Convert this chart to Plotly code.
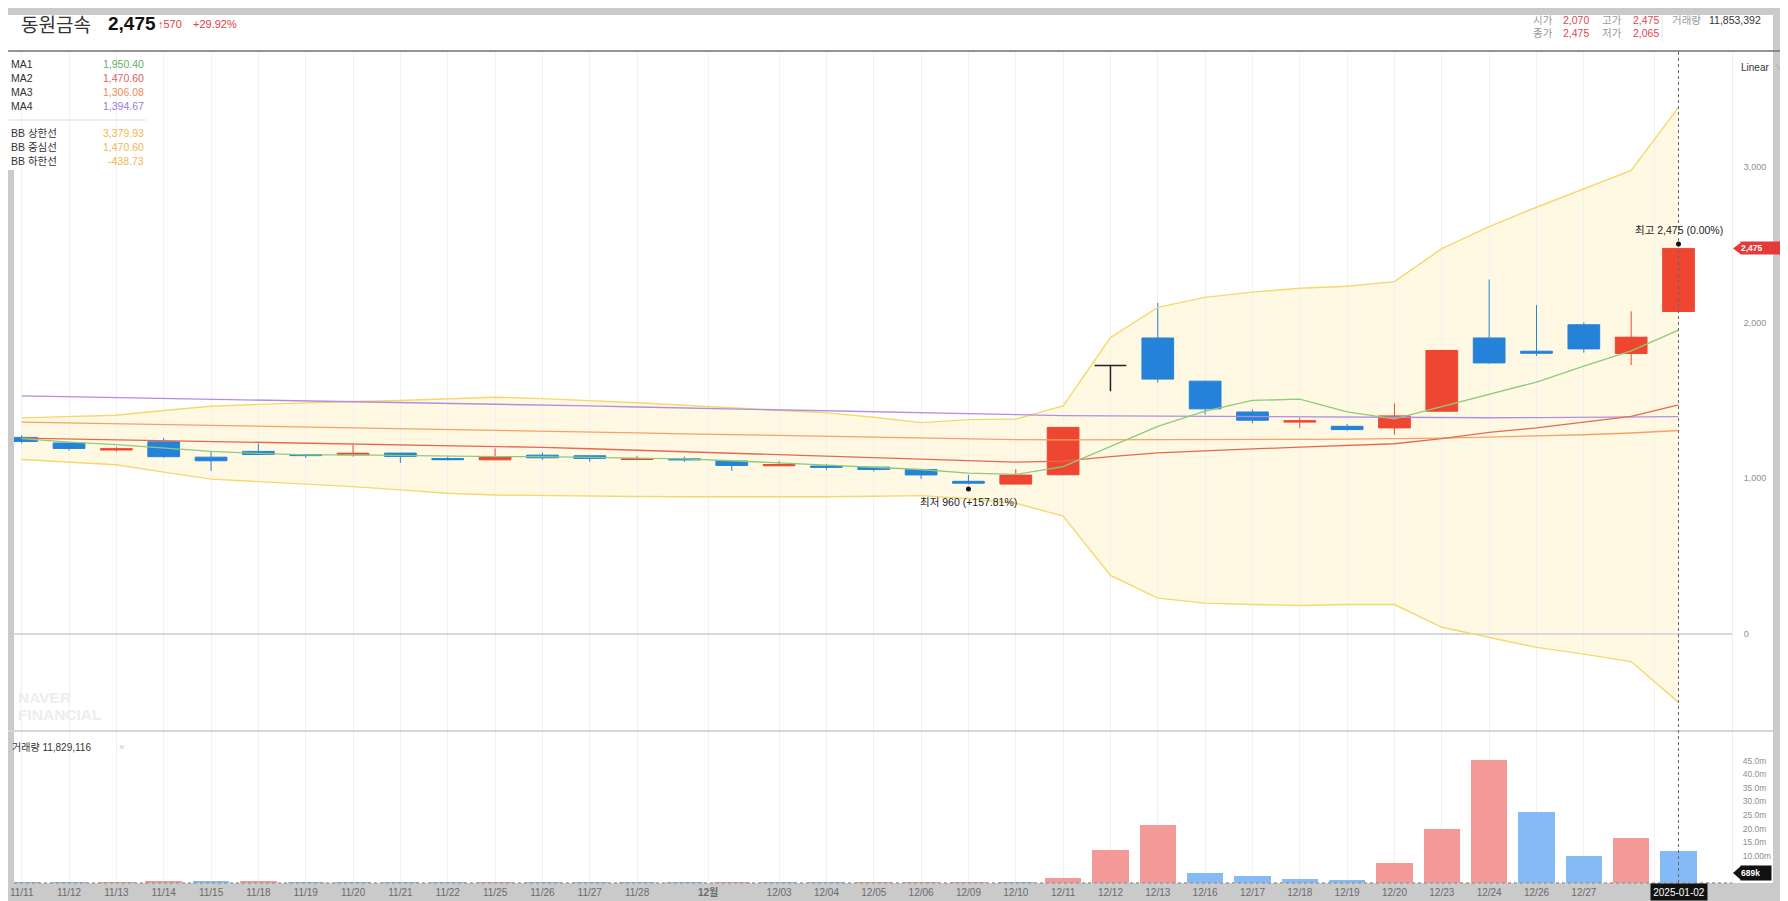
import plotly.graph_objects as go
from plotly.subplots import make_subplots

# ---------------- data ----------------
dates = ["2024-11-11","2024-11-12","2024-11-13","2024-11-14","2024-11-15","2024-11-18","2024-11-19",
         "2024-11-20","2024-11-21","2024-11-22","2024-11-25","2024-11-26","2024-11-27","2024-11-28",
         "2024-11-29","2024-12-02","2024-12-03","2024-12-04","2024-12-05","2024-12-06","2024-12-09",
         "2024-12-10","2024-12-11","2024-12-12","2024-12-13","2024-12-16","2024-12-17","2024-12-18",
         "2024-12-19","2024-12-20","2024-12-23","2024-12-24","2024-12-26","2024-12-27","2024-12-30",
         "2025-01-02"]
open_ = [1262,1226,1181,1234,1135,1172,1152,1150,1161,1126,1118,1148,1144,1120,1125,1110,1080,1078,
         1071,1056,980,962,1022,1723,1900,1623,1425,1360,1333,1323,1430,1900,1815,1985,1800,2070]
high = [1275,1226,1202,1258,1170,1223,1153,1223,1162,1139,1191,1165,1145,1144,1139,1112,1110,1092,
        1072,1058,1021,1058,1326,1723,2125,1625,1441,1387,1348,1479,1821,2275,2111,2000,2071,2475]
low = [1223,1178,1170,1131,1047,1150,1131,1139,1099,1115,1118,1118,1105,1118,1105,1047,1079,1052,
       1043,995,960,962,1020,1558,1613,1408,1352,1323,1305,1279,1430,1735,1785,1806,1726,2065]
close = [1236,1191,1189,1138,1112,1152,1145,1160,1140,1119,1139,1131,1127,1124,1118,1082,1087,1070,
         1056,1021,968,1020,1326,1723,1636,1445,1372,1369,1312,1400,1820,1740,1802,1830,1905,2475]
volume = [150e3,120e3,250e3,550e3,450e3,600e3,150e3,140e3,110e3,90e3,250e3,120e3,100e3,80e3,70e3,
          130e3,90e3,80e3,100e3,200e3,300e3,250e3,2.0e6,12.0e6,21.3e6,3.75e6,2.4e6,1.4e6,1.05e6,
          7.2e6,19.7e6,45.4e6,26.2e6,10.0e6,16.6e6,11829116]

ma1 = [1254,1232,1215,1193,1172,1159,1150,1150,1146,1144,1139,1139,1135,1127,1124,1112,1097,1084,
       1071,1056,1032,1024,1075,1204,1333,1430,1499,1507,1426,1381,1458,1537,1617,1720,1817,1950.40]
ma2 = [1257,1252,1247,1242,1237,1232,1226,1221,1216,1211,1206,1198,1189,1179,1169,1161,1150,1140,
       1131,1121,1111,1103,1109,1139,1162,1176,1188,1199,1208,1221,1254,1294,1323,1359,1397,1470.60]
ma3 = [1360,1355,1350,1344,1339,1333,1328,1323,1318,1312,1307,1302,1296,1291,1285,1279,1274,1268,
       1263,1258,1252,1247,1246,1246,1247,1247,1248,1249,1251,1253,1257,1264,1271,1279,1290,1306.08]
ma4 = [1528,1523,1518,1513,1508,1503,1498,1493,1488,1483,1477,1470,1464,1457,1451,1444,1437,1431,
       1424,1418,1411,1405,1402,1400,1398,1396,1394,1392,1390,1389,1388,1388,1389,1390,1392,1394.67]
bb_upper = [1387,1395,1404,1435,1462,1474,1484,1492,1499,1510,1520,1511,1499,1484,1468,1452,1436,1419,
            1391,1357,1376,1380,1464,1903,2097,2161,2194,2219,2232,2262,2473,2615,2739,2857,2975,3379.93]
bb_middle = ma2
bb_lower = [1120,1105,1086,1039,994,978,963,946,925,903,892,888,885,883,881,880,880,881,
            884,888,868,839,757,376,230,198,189,183,189,189,43,-22,-86,-129,-177,-438.73]

tick_pos = [0,1,2,3,4,5,6,7,8,9,10,11,12,13,14.5,16,17,18,19,20,21,22,23,24,25,26,27,28,29,30,31,32,33,34.5]
tick_text = ["11/11","11/12","11/13","11/14","11/15","11/18","11/19","11/20","11/21","11/22","11/25",
             "11/26","11/27","11/28","<b>12월</b>","12/03","12/04","12/05","12/06","12/09","12/10",
             "12/11","12/12","12/13","12/16","12/17","12/18","12/19","12/20","12/23","12/24","12/26",
             "12/27",""]
price_ticks = [0, 1000, 2000, 3000]
vol_ticks = [5e6,10e6,15e6,20e6,25e6,30e6,35e6,40e6,45e6]
vol_tick_text = ["5.00m","10.00m","15.0m","20.0m","25.0m","30.0m","35.0m","40.0m","45.0m"]

stock_name = "동원금속"
quote_volume = 11853392

# ---------------- layout geometry (page pixels) ----------------
OFF = 8                      # default body margin of the html page
W, H = 1788 - OFF, 901 - OFF  # figure size
PL, PR, PT, PB = 14, 1732, 51, 883   # plot box, page pixels
SPLIT = 731


def px(x):
    return (x - PL) / (PR - PL)


def py(y):
    return (PB - y) / (PB - PT)


RED = "#ef4631"
BLUE = "#2483d8"
KFONT = "Liberation Sans, Noto Sans CJK KR, sans-serif"
NARROW = "Liberation Sans Narrow, Liberation Sans, Noto Sans CJK KR, sans-serif"

n = len(dates)
xs = list(range(n))
last = n - 1

fig = make_subplots(rows=2, cols=1, shared_xaxes=True, vertical_spacing=0,
                    row_heights=[SPLIT - PT, PB - SPLIT])

# Bollinger band lines (fill is drawn as a background shape below)
fig.add_trace(go.Scatter(x=xs, y=bb_upper, mode="lines", line=dict(color="#f5d86c", width=1.4),
                         hoverinfo="skip"), row=1, col=1)
fig.add_trace(go.Scatter(x=xs, y=bb_lower, mode="lines", line=dict(color="#f5d86c", width=1.4),
                         hoverinfo="skip"), row=1, col=1)

# candles (open == close drawn in black)
is_doji = [o == c for o, c in zip(open_, close)]
norm_idx = [i for i in xs if not is_doji[i]]
doji_idx = [i for i in xs if is_doji[i]]


def sub(arr, idx):
    return [arr[i] for i in idx]


fig.add_trace(go.Candlestick(x=norm_idx, open=sub(open_, norm_idx), high=sub(high, norm_idx),
                             low=sub(low, norm_idx), close=sub(close, norm_idx),
                             increasing=dict(line=dict(color=RED, width=1), fillcolor=RED),
                             decreasing=dict(line=dict(color=BLUE, width=1), fillcolor=BLUE),
                             whiskerwidth=0), row=1, col=1)
fig.add_trace(go.Candlestick(x=doji_idx, open=sub(open_, doji_idx), high=sub(high, doji_idx),
                             low=sub(low, doji_idx), close=sub(close, doji_idx),
                             increasing=dict(line=dict(color="#222222", width=1.5), fillcolor="#222222"),
                             decreasing=dict(line=dict(color="#222222", width=1.5), fillcolor="#222222"),
                             whiskerwidth=0), row=1, col=1)

# moving averages
for arr, col in [(ma4, "#b38ee0"), (ma3, "#f4a266"), (ma2, "#e8684f"), (ma1, "#8ccb7b")]:
    fig.add_trace(go.Scatter(x=xs, y=arr, mode="lines", line=dict(color=col, width=1.3),
                             hoverinfo="skip"), row=1, col=1)

# volume
vol_colors = ["#84baf5"] + ["#f39a99" if volume[i] >= volume[i - 1] else "#84baf5" for i in range(1, n)]
fig.add_trace(go.Bar(x=xs, y=volume, marker=dict(color=vol_colors, line=dict(width=0)), width=0.77),
              row=2, col=1)

xr = [-(21.7 - PL) / 47.34, last + (PR - 1678.5) / 47.34]
pdom = (PB - SPLIT) / (PB - PT)
ppu = 0.1558
prange = [-(SPLIT - 634) / ppu, (634 - PT) / ppu]

fig.update_layout(
    width=W, height=H,
    margin=dict(l=PL - OFF, r=(1788 - PR), t=PT - OFF, b=(901 - PB), autoexpand=False),
    paper_bgcolor="#cacaca", plot_bgcolor="white", showlegend=False,
    boxgap=0.33, boxgroupgap=0, bargap=0,
    font=dict(family=KFONT),
)
fig.update_xaxes(rangeslider_visible=False, range=xr, tickvals=tick_pos, ticktext=tick_text,
                 showgrid=True, gridcolor="#f1f1f1", gridwidth=1, zeroline=False, showline=False,
                 ticks="", automargin=False)
fig.update_xaxes(showticklabels=False, row=1, col=1)
fig.update_xaxes(showticklabels=True, tickfont=dict(size=10, color="#6a6a6a", family=NARROW),
                 ticklabelstandoff=2, row=2, col=1)
fig.update_yaxes(domain=[pdom, 1], range=prange, side="right", tickvals=price_ticks,
                 tickformat=",", showgrid=False, zeroline=True, zerolinecolor="#d9d9d9",
                 zerolinewidth=1.5, tickfont=dict(size=9, color="#8f8f8f", family=NARROW),
                 showline=True, linecolor="#eeeeee", ticks="", ticklabelstandoff=9,
                 automargin=False, row=1, col=1)
fig.update_yaxes(domain=[0, pdom], range=[0, 55.9e6], side="right", tickvals=vol_ticks,
                 ticktext=vol_tick_text, showgrid=False, zeroline=False,
                 tickfont=dict(size=8.5, color="#8f8f8f", family=NARROW),
                 showline=True, linecolor="#eeeeee", ticks="", ticklabelstandoff=8,
                 automargin=False, row=2, col=1)

shapes = []
shapes.append(dict(type="rect", xref="paper", yref="paper", x0=px(PL), x1=px(1773), y0=py(PB), y1=py(15),
                   fillcolor="white", line=dict(width=0), layer="below"))
shapes.append(dict(type="rect", xref="paper", yref="paper", x0=px(0), x1=px(PL), y0=py(170), y1=py(15),
                   fillcolor="white", line=dict(width=0), layer="below"))
band = "M " + " L ".join(f"{x},{y}" for x, y in zip(xs, bb_upper))
band += " L " + " L ".join(f"{x},{y}" for x, y in zip(reversed(xs), reversed(bb_lower))) + " Z"
shapes.append(dict(type="path", xref="x", yref="y", path=band, fillcolor="#fff9e4",
                   line=dict(width=0), layer="below"))
shapes.append(dict(type="line", xref="paper", yref="paper", x0=px(0), x1=px(1790), y0=py(51), y1=py(51),
                   line=dict(color="#707070", width=1.5)))
shapes.append(dict(type="line", xref="paper", yref="paper", x0=px(1662), x1=px(1662), y0=py(15), y1=py(42),
                   line=dict(color="#e6e6e6", width=1)))
shapes.append(dict(type="line", xref="paper", yref="paper", x0=px(0), x1=px(1773), y0=py(SPLIT), y1=py(SPLIT),
                   line=dict(color="#d6d6d6", width=2)))
shapes.append(dict(type="line", xref="paper", yref="paper", x0=px(PL), x1=px(PR), y0=py(PB), y1=py(PB),
                   line=dict(color="#9a9a9a", width=1.5, dash="dot")))
shapes.append(dict(type="line", xref="paper", yref="paper", x0=px(9), x1=px(146), y0=py(120), y1=py(120),
                   line=dict(color="#dddddd", width=1)))
shapes.append(dict(type="line", xref="x", yref="paper", x0=last, x1=last, y0=0, y1=1,
                   line=dict(color="#666666", width=1, dash="dot")))
imax = max(range(n), key=lambda i: high[i])
imin = min(range(n), key=lambda i: low[i])
shapes.append(dict(type="circle", xref="x", yref="y", xsizemode="pixel", ysizemode="pixel",
                   xanchor=imax, yanchor=high[imax], x0=-2.5, x1=2.5, y0=2, y1=7,
                   fillcolor="#111111", line=dict(width=0)))
shapes.append(dict(type="circle", xref="x", yref="y", xsizemode="pixel", ysizemode="pixel",
                   xanchor=imin, yanchor=low[imin], x0=-2.5, x1=2.5, y0=-2, y1=-7,
                   fillcolor="#111111", line=dict(width=0)))
shapes.append(dict(type="path", xref="paper", yref="y", xsizemode="pixel", ysizemode="pixel",
                   xanchor=1, yanchor=close[-1], path="M 1 0 L 9 6 L 9 -6 Z",
                   fillcolor="#e33b3b", line=dict(width=0)))
shapes.append(dict(type="path", xref="paper", yref="paper", xsizemode="pixel", ysizemode="pixel",
                   xanchor=1, yanchor=py(873), path="M 1 0 L 9 7 L 9 -7 Z",
                   fillcolor="#111111", line=dict(width=0)))
fig.update_layout(shapes=shapes)

ann = []


def txt(x, y, s, size, color, anchor="left", family=KFONT, **kw):
    ann.append(dict(xref="paper", yref="paper", x=px(x), y=py(y), text=s, showarrow=False,
                    xanchor=anchor, yanchor="middle", font=dict(size=size, color=color, family=family), **kw))


chg = close[-1] - close[-2]
pct = chg / close[-2] * 100
txt(19, 24, stock_name, 19, "#333333", family="Noto Sans CJK KR")
txt(106, 24, f"<b>{close[-1]:,}</b>", 19, "#111111", family="Liberation Sans")
txt(156, 24, f"<b>↑</b>{chg:,}", 11, "#e0413c")
txt(191, 24, f"+{pct:.2f}%", 11, "#e0413c")

txt(1531, 20, "시가", 10.5, "#9a9a9a", family="Noto Sans CJK KR")
txt(1561, 20, f"{open_[-1]:,}", 10.5, "#e0474c")
txt(1600, 20, "고가", 10.5, "#9a9a9a", family="Noto Sans CJK KR")
txt(1631, 20, f"{high[-1]:,}", 10.5, "#e0474c")
txt(1670, 20, "거래량", 10.5, "#9a9a9a", family="Noto Sans CJK KR")
txt(1707, 20, f"{quote_volume:,}", 10.5, "#333333")
txt(1531, 33, "종가", 10.5, "#9a9a9a", family="Noto Sans CJK KR")
txt(1561, 33, f"{close[-1]:,}", 10.5, "#e0474c")
txt(1600, 33, "저가", 10.5, "#9a9a9a", family="Noto Sans CJK KR")
txt(1631, 33, f"{low[-1]:,}", 10.5, "#e0474c")

txt(1739, 68, "Linear", 10, "#333333")
txt(1773, 68, "∨", 8, "#aaaaaa")

rows = [("MA1", ma1[-1], "#5fb35f", 64), ("MA2", ma2[-1], "#e06060", 78),
        ("MA3", ma3[-1], "#ef8c57", 92), ("MA4", ma4[-1], "#9b7bd6", 106),
        ("BB 상한선", bb_upper[-1], "#f2b84b", 133), ("BB 중심선", bb_middle[-1], "#f2b84b", 147),
        ("BB 하한선", bb_lower[-1], "#f2b84b", 161)]
for name, val, col, yy in rows:
    txt(9, yy, name, 10.5, "#333333")
    txt(146, yy, f"{val:,.2f}", 10.5, col, anchor="right")

txt(10, 747, f"거래량 {volume[-1]:,}", 10, "#333333")
txt(117, 747, "×", 9, "#c8c8c8")

txt(16, 697, "<b>NAVER</b>", 15.5, "#ededed")
txt(16, 714, "<b>FINANCIAL</b>", 15.5, "#ededed")

ann.append(dict(xref="x", yref="y", x=imax, y=high[imax], yshift=18, showarrow=False,
                text=f"최고 {high[imax]:,} ({(high[imax] - close[-1]) / close[-1] * 100:.2f}%)",
                font=dict(size=10.5, color="#222222", family=KFONT), xanchor="center", yanchor="middle"))
ann.append(dict(xref="x", yref="y", x=imin, y=low[imin], yshift=-18, showarrow=False,
                text=f"최저 {low[imin]:,} (+{(close[-1] - low[imin]) / low[imin] * 100:.2f}%)",
                font=dict(size=10.5, color="#222222", family=KFONT), xanchor="center", yanchor="middle"))

ann.append(dict(xref="paper", yref="y", x=px(1740), y=close[-1], showarrow=False, xanchor="left",
                yanchor="middle", text=f"<b>{close[-1]:,}</b>", bgcolor="#e33b3b", width=40, height=12,
                align="left", font=dict(size=8.5, color="white", family=NARROW), borderpad=0))
ann.append(dict(xref="paper", yref="paper", x=px(1740), y=py(873), showarrow=False, xanchor="left",
                yanchor="middle", text="<b>689k</b>", bgcolor="#111111", width=30, height=14,
                align="left", font=dict(size=8.5, color="white", family=NARROW), borderpad=0))
ann.append(dict(xref="x", yref="paper", x=last, y=py(892), showarrow=False, xanchor="center",
                yanchor="middle", text="2025-01-02", bgcolor="#111111", width=56, height=16,
                font=dict(size=10, color="white", family=NARROW), borderpad=0))

fig.update_layout(annotations=ann)
fig.write_html("out.html")
